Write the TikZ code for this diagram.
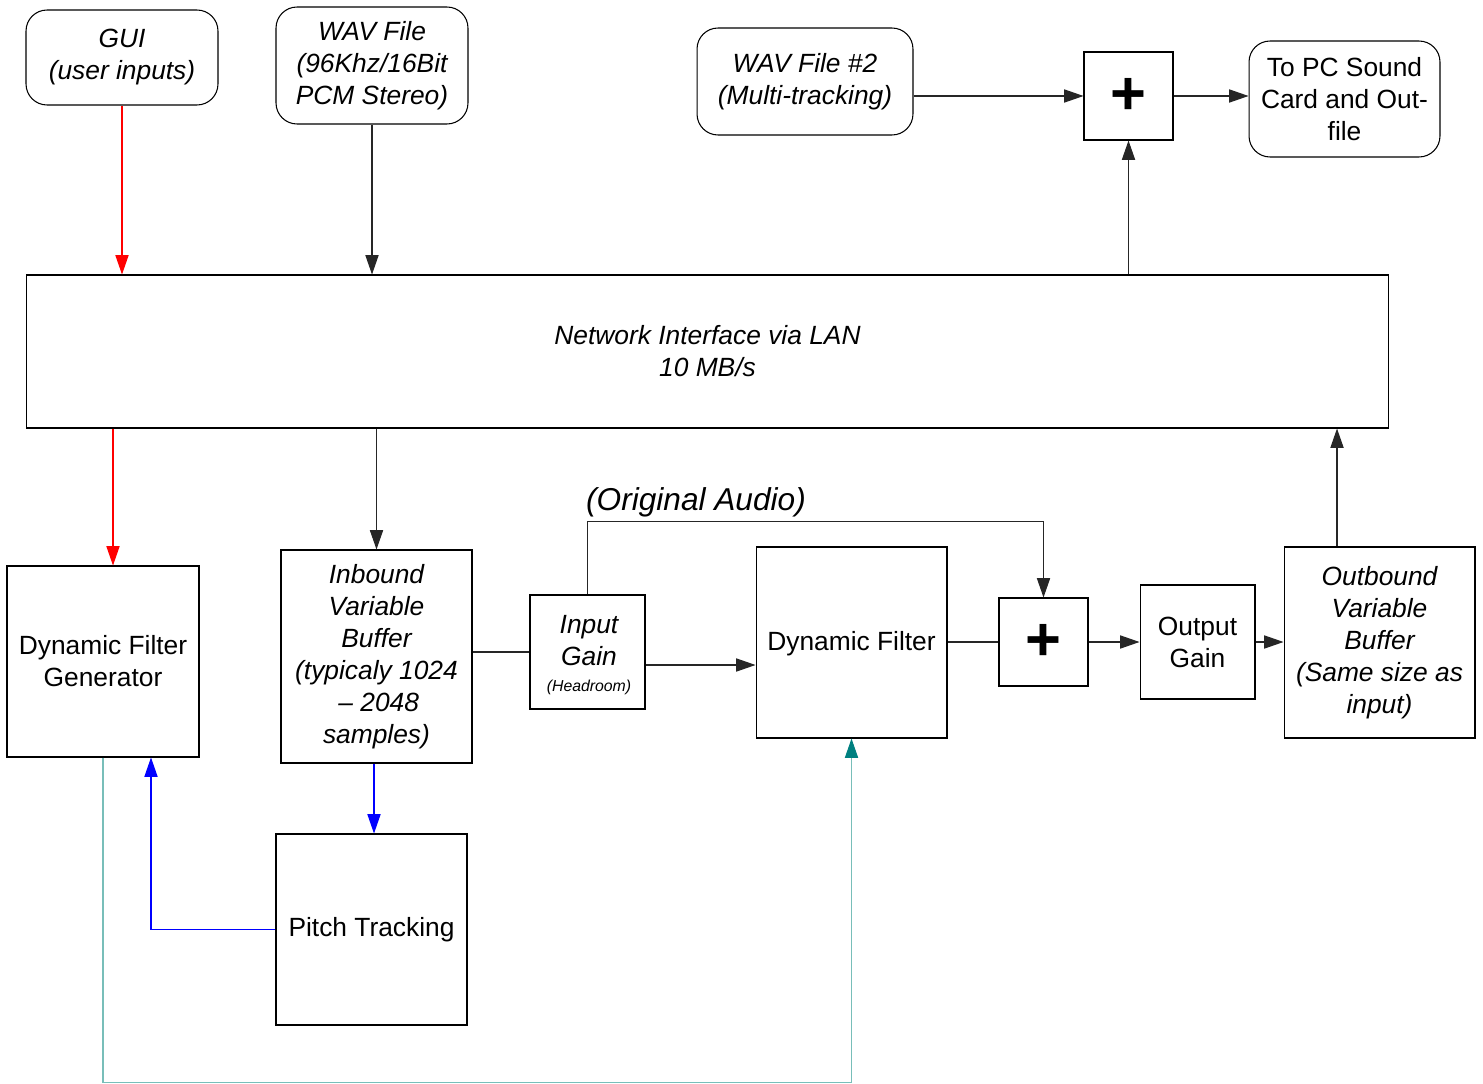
\documentclass[tikz,border=0pt]{standalone}
\usepackage{fontspec}
\setmainfont{Liberation Sans}
\usetikzlibrary{arrows.meta,calc}
\definecolor{tealA}{RGB}{0,128,128}
\definecolor{tealL}{RGB}{120,190,185}
\begin{document}
\begin{tikzpicture}[x=0.02cm,y=-0.02cm,
  every node/.style={font=\fontsize{15}{18.2}\selectfont, align=center, inner sep=0pt},
  box/.style={draw=black, line width=0.6pt},
  rbox/.style={box, rounded corners=0.42cm},
  it/.style={font=\fontsize{15}{18.2}\selectfont\itshape},
  conn/.style={line width=0.6pt, draw=black!85},
  arr/.style={conn, -{Triangle[length=11pt,width=7.5pt]}},
  redarr/.style={line width=0.6pt, draw=red, -{Triangle[length=11pt,width=7.5pt,color=red]}},
  bluearr/.style={line width=0.6pt, draw=blue, -{Triangle[length=11pt,width=7.5pt,color=blue]}},
  tealarr/.style={line width=0.6pt, draw=tealL, -{Triangle[length=11pt,width=7.5pt,color=tealA]}},
  plus/.style={font=\fontsize{35}{35}\selectfont\bfseries}
]
\useasboundingbox (0,0) rectangle (1483,1084);

% top row
\node[rbox, it, minimum width=3.84cm, minimum height=1.90cm] (gui) at (122,57.5) {GUI\\(user inputs)};
\node[rbox, it, minimum width=3.84cm, minimum height=2.34cm] (wav) at (372,65.5) {WAV File\\(96Khz/16Bit\\PCM Stereo)};
\node[rbox, it, minimum width=4.32cm, minimum height=2.14cm] (wav2) at (805,81.5) {WAV File \#2\\(Multi-tracking)};
\node[box, minimum width=1.78cm, minimum height=1.76cm] (ptop) at (1128.5,96) {};
\node[plus] (ptopl) at (ptop) {+};
\node[rbox, minimum width=3.82cm, minimum height=2.32cm] (pc) at (1344.5,99) {To PC Sound\\Card and Out-\\file};

% network
\node[box, it, minimum width=27.26cm, minimum height=3.06cm] (net) at (707.5,351.5) {Network Interface via LAN\\10 MB/s};

% middle row
\node[box, minimum width=3.84cm, minimum height=3.82cm] (dfg) at (103,661.5) {Dynamic Filter\\Generator};
\node[box, it, minimum width=3.82cm, minimum height=4.26cm] (inb) at (376.5,656.5) {Inbound\\Variable\\Buffer\\(typicaly 1024\\\,-- 2048\\samples)};
\node[box, minimum width=2.30cm, minimum height=2.28cm] (ig) at (587.5,652) {};
\node[it] (igl) at (589,655) {Input\\Gain\\[-3pt]{\fontsize{9}{10}\selectfont (Headroom)}};
\node[box, minimum width=3.82cm, minimum height=3.82cm] (df) at (851.5,642.5) {};
\node (dfl) at (851.5,644) {Dynamic Filter};
\node[box, minimum width=1.78cm, minimum height=1.76cm] (pm) at (1043.5,642) {};
\node[plus] (pml) at (pm) {+};
\node[box, minimum width=2.30cm, minimum height=2.28cm] (og) at (1197.5,642) {Output\\Gain};
\node[box, it, minimum width=3.82cm, minimum height=3.82cm] (outb) at (1379.5,642.5) {Outbound\\Variable\\Buffer\\(Same size as\\input)};
\node[box, minimum width=3.82cm, minimum height=3.82cm] (pt) at (371.5,929.5) {Pitch Tracking};

\node[font=\fontsize{18}{20}\selectfont\itshape] (orig) at (696,502) {(Original Audio)};

% helper coordinates
\coordinate (dfgN) at ($(dfg.north)+(10,0)$);
\coordinate (dfgS) at ($(dfg.south)+(48,0)$);
\coordinate (igE) at ($(ig.east)+(0,13)$);
\coordinate (obN) at ($(outb.north)+(-42.5,0)$);
\coordinate (inbS) at ($(inb.south)+(-2.5,0)$);

% connectors
\draw[redarr] (gui.south) -- (gui.south |- net.north);
\draw[arr] (wav.south) -- (wav.south |- net.north);
\draw[redarr] (dfgN |- net.south) -- (dfgN);
\draw[arr] (inb.north |- net.south) -- (inb.north);
\draw[conn] (ig.west -| inb.east) -- (ig.west);
\draw[arr] (igE) -- (igE -| df.west);
\draw[arr] (ig.north) -- ++(0,-73) -| (pm.north);
\draw[conn] (pm.west -| df.east) -- (pm.west);
\draw[arr] (pm.east) -- (og.west);
\draw[arr] (og.east) -- (og.east -| outb.west);
\draw[arr] (obN) -- (obN |- net.south);
\draw[arr] (ptop.south |- net.north) -- (ptop.south);
\draw[arr] (ptop.west -| wav2.east) -- (ptop.west);
\draw[arr] (ptop.east) -- (ptop.east -| pc.west);
\draw[bluearr] (inbS) -- (inbS |- pt.north);
\draw[bluearr] (pt.west) -| (dfgS);
\draw[tealarr] (dfg.south) -- ++(0,325) -| (df.south);
\end{tikzpicture}
\end{document}
